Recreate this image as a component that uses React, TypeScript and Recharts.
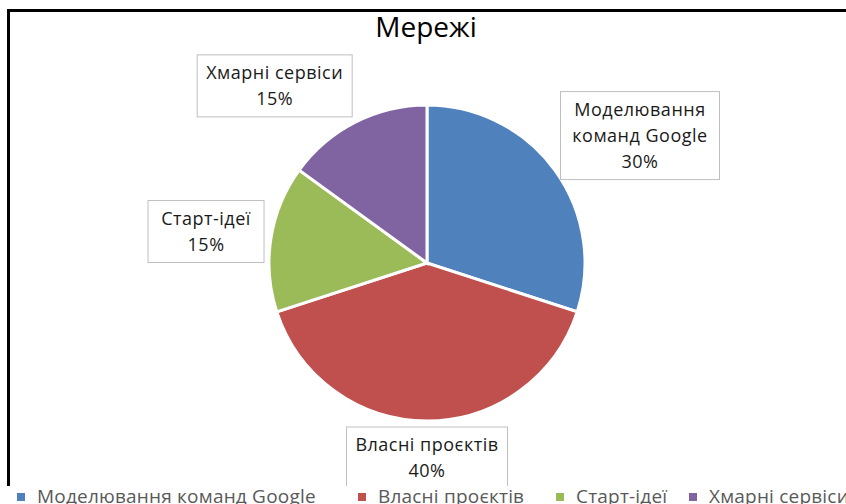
import { Cell, Legend, Pie, PieChart } from 'recharts';

const CATEGORIES = [
  'Моделювання команд Google',
  'Власні проєктів',
  'Старт-ідеї',
  'Хмарні сервіси',
];
const SHARES = [30, 40, 15, 15];
const COLORS = ['#4f81bd', '#c0504d', '#9bbb59', '#8064a2'];
// label box sizes [width, height], same order as the categories
const LABEL_BOXES = [
  [159, 88],
  [161, 62],
  [116, 62],
  [155, 62],
];
// legend column widths, same order
const LEGEND_WIDTHS = [341, 198, 133, 170];

const FONT = '"Open Sans", "Liberation Sans", sans-serif';
const RAD = Math.PI / 180;

const data = CATEGORIES.map((name, i) => ({ name, value: SHARES[i] }));

const clamp = (v: number) => Math.max(-1, Math.min(1, v));

function renderLabel(props: any) {
  const { cx, cy, midAngle, outerRadius, index, percent } = props;
  const name: string = props.name ?? props.payload?.name ?? '';
  const dx = Math.cos(-midAngle * RAD);
  const dy = Math.sin(-midAngle * RAD);
  const px = cx + (outerRadius + 7) * dx;
  const py = cy + (outerRadius + 6) * dy;
  const [w, h] = LABEL_BOXES[index];
  const bx = px + (w / 2) * clamp(dx * 2.2);
  const by = py + (h / 2) * clamp(dy * 1.2);

  const lines: string[] = [];
  if (name.length > 20) {
    const cut = name.indexOf(' ');
    lines.push(name.slice(0, cut), name.slice(cut + 1));
  } else {
    lines.push(name);
  }
  lines.push(`${Math.round(percent * 100)}%`);

  return (
    <g key={`lbl-${index}`}>
      <rect
        x={bx - w / 2}
        y={by - h / 2}
        width={w}
        height={h}
        fill="#fff"
        stroke="#bfbfbf"
        strokeWidth={1}
      />
      <text
        textAnchor="middle"
        fill="#1a1a1a"
        fontFamily={FONT}
        fontSize={18}
        letterSpacing={0.5}
      >
        {lines.map((line, i) => (
          <tspan
            key={i}
            x={bx}
            y={by + (i - (lines.length - 1) / 2) * 26 + 6}
          >
            {line}
          </tspan>
        ))}
      </text>
    </g>
  );
}

function LegendContent() {
  return (
    <div
      style={{
        display: 'flex',
        alignItems: 'center',
        background: '#fff',
        paddingLeft: 17,
        fontFamily: FONT,
        fontSize: 19,
        lineHeight: '20px',
        letterSpacing: 0.2,
        color: '#595959',
        whiteSpace: 'nowrap',
      }}
    >
      {CATEGORIES.map((name, i) => (
        <div
          key={name}
          style={{
            display: 'flex',
            alignItems: 'center',
            width: LEGEND_WIDTHS[i],
            flex: 'none',
          }}
        >
          <span
            style={{
              display: 'inline-block',
              width: 8,
              height: 8,
              background: COLORS[i],
              marginRight: 12,
              marginTop: 2,
            }}
          />
          <span>{name}</span>
        </div>
      ))}
    </div>
  );
}

export default function App() {
  return (
    <div
      style={{
        position: 'absolute',
        left: 0,
        top: 0,
        width: 846,
        height: 504,
        overflow: 'hidden',
        background: '#fff',
      }}
    >
      <div
        style={{
          position: 'absolute',
          left: 7,
          top: 9,
          width: 900,
          height: 600,
          borderLeft: '3px solid #000',
          borderTop: '3px solid #000',
        }}
      />
      <div
        style={{
          position: 'absolute',
          left: 3,
          top: 12,
          width: 846,
          textAlign: 'center',
          fontFamily: FONT,
          fontSize: 28,
          lineHeight: '28px',
          color: '#000',
        }}
      >
        Мережі
      </div>
      <div style={{ position: 'absolute', left: 0, top: 0 }}>
        <PieChart
          width={846}
          height={504}
          margin={{ top: 0, right: 0, bottom: 0, left: 0 }}
        >
          <Pie
            data={data}
            dataKey="value"
            nameKey="name"
            cx={427}
            cy={263}
            outerRadius={158}
            startAngle={90}
            endAngle={-270}
            stroke="#fff"
            strokeWidth={3}
            label={renderLabel}
            labelLine={false}
            isAnimationActive={false}
          >
            {data.map((d, i) => (
              <Cell key={d.name} fill={COLORS[i]} />
            ))}
          </Pie>
          <Legend
            content={<LegendContent />}
            wrapperStyle={{ position: 'absolute', left: 0, top: 486, width: 846 }}
          />
        </PieChart>
      </div>
    </div>
  );
}
